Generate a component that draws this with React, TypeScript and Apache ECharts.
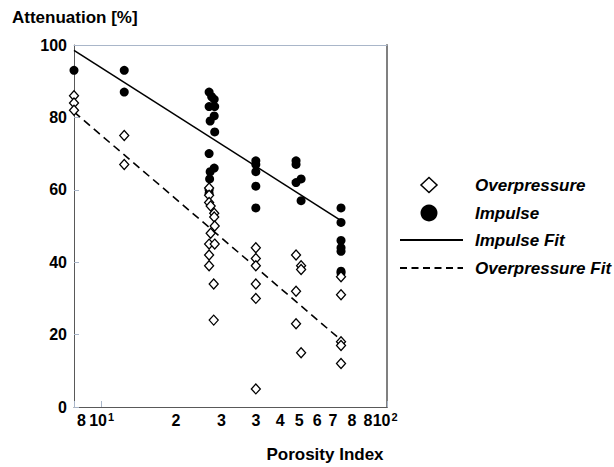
import React, { useEffect, useRef } from "react";
import * as echarts from "echarts";

// Porosity index (x, log axis) and attenuation in % (y)
const impulseX = [8, 12, 12, 23.8, 24.3, 24.8, 23.8, 24.9, 24.8, 24.0, 24.9, 23.8, 24.8, 24.0, 23.9, 23.8, 23.8,
  34.7, 34.7, 34.7, 34.7, 34.7, 48, 48, 48, 50, 50, 69, 69, 69, 69, 69, 69, 69];
const impulseY = [93, 93, 87, 87, 85.7, 85, 83, 83, 80.4, 79, 76, 70, 66, 65, 63, 60, 59,
  68, 67, 65, 61, 55, 68, 67, 62, 63, 57, 55, 51, 46, 44, 43, 37.5, 37];

const overX = [8, 8, 8, 12, 12, 23.8, 23.8, 23.8, 24.1, 24.8, 24.8, 24.9, 24.1, 23.8, 24.9, 23.8, 23.8, 24.7, 24.7,
  34.7, 34.7, 34.7, 34.7, 34.7, 34.7, 48, 50, 50, 48, 48, 50, 69, 69, 69, 69, 69];
const overY = [86, 84, 82, 75, 67, 60.5, 58.5, 56.5, 55.5, 53.5, 52.5, 50, 48, 45, 45, 42, 39, 34, 24,
  44, 41, 39, 34, 30, 5, 42, 39, 38, 32, 23, 15, 36, 31, 18, 17, 12];

const impulseFitX = [8, 69];
const impulseFitY = [98.5, 51.5];
const overFitX = [8, 69];
const overFitY = [81.5, 18.5];

const xTickValues = [8.5, 10, 18.2, 26.3, 34.7, 42.2, 49.2, 56.9, 64.7, 75.4, 85.8, 98.5];
const xTickLabels = ["8", "10{sup|1}", "2", "3", "3", "4", "5", "6", "7", "8", "8", "10{sup|2}"];

const legendNames = ["Overpressure", "Impulse", "Impulse Fit", "Overpressure Fit"];

const FONT = "Liberation Sans, Arial, sans-serif";

export default function App() {
  const ref = useRef<HTMLDivElement>(null);
  useEffect(() => {
    const chart = echarts.init(ref.current!, null, { renderer: "svg" });
    const zip = (xs: number[], ys: number[]) => xs.map((x, i) => [x, ys[i]]);
    chart.setOption({
      animation: false,
      textStyle: { fontFamily: FONT },
      grid: { left: 74, top: 45, right: 227, bottom: 60 },
      xAxis: [
        {
          type: "log",
          min: 8,
          max: 100,
          position: "bottom",
          axisLine: { onZero: false, lineStyle: { color: "#595959", width: 1 } },
          axisTick: { show: true, inside: true, length: 6, lineStyle: { color: "#a9b6c9" } },
          axisLabel: { show: false },
          splitLine: { show: false },
        },
        {
          type: "log",
          min: 8,
          max: 100,
          position: "top",
          axisLine: { onZero: false, lineStyle: { color: "#a9b6c9", width: 1 } },
          axisTick: { show: false },
          axisLabel: { show: false },
          splitLine: { show: false },
        },
      ],
      yAxis: [
        {
          type: "value",
          min: 0,
          max: 100,
          interval: 20,
          position: "left",
          axisLine: { show: true, onZero: false, lineStyle: { color: "#595959", width: 1 } },
          axisTick: { show: true, inside: true, length: 5, lineStyle: { color: "#a9b6c9" } },
          axisLabel: { fontSize: 16, fontWeight: "bold", color: "#000", margin: 7, fontFamily: FONT },
          splitLine: { show: false },
        },
        {
          type: "value",
          min: 0,
          max: 100,
          position: "right",
          axisLine: { show: true, onZero: false, lineStyle: { color: "#808080", width: 2 } },
          axisTick: { show: false },
          axisLabel: { show: false },
          splitLine: { show: false },
        },
      ],
      series: [
        {
          name: "Impulse",
          type: "scatter",
          data: zip(impulseX, impulseY),
          symbol: "circle",
          symbolSize: 9,
          itemStyle: { color: "#000", opacity: 1 },
          z: 2,
        },
        {
          name: "Overpressure",
          type: "scatter",
          data: zip(overX, overY),
          symbol: "diamond",
          symbolSize: [9, 10],
          itemStyle: { color: "#fff", borderColor: "#000", borderWidth: 1.3, opacity: 1 },
          z: 3,
        },
        {
          name: "Impulse Fit",
          type: "line",
          data: zip(impulseFitX, impulseFitY),
          symbol: "none",
          lineStyle: { color: "#000", width: 1.6, type: "solid" },
          z: 1,
        },
        {
          name: "Overpressure Fit",
          type: "line",
          data: zip(overFitX, overFitY),
          symbol: "none",
          lineStyle: { color: "#000", width: 1.6, type: [8, 5] },
          z: 1,
        },
      ],
    });

    const tickTexts = xTickValues.map((v, i) => {
      const px = chart.convertToPixel({ xAxisIndex: 0 }, v) as number;
      return {
        type: "text",
        x: px,
        y: 420,
        style: {
          text: xTickLabels[i],
          fontSize: 16,
          fontWeight: "bold",
          fontFamily: FONT,
          fill: "#000",
          align: "center",
          verticalAlign: "middle",
          lineHeight: 18,
          rich: {
            sup: { fontSize: 11, fontWeight: "bold", fontFamily: FONT, fill: "#000", verticalAlign: "top", lineHeight: 18, padding: [0, 0, 0, 1] },
          },
        },
      };
    });

    const legendY = [185, 213, 240, 268];
    const legendTextStyle = (t: string) => ({
      text: t,
      fontSize: 17,
      fontWeight: "bold",
      fontStyle: "italic",
      fontFamily: FONT,
      fill: "#000",
      align: "left",
      verticalAlign: "middle",
    });

    chart.setOption({
      graphic: [
        ...tickTexts,
        {
          type: "text",
          x: 12,
          y: 17,
          style: {
            text: "Attenuation [%]",
            fontSize: 17,
            fontWeight: "bold",
            fontFamily: FONT,
            fill: "#000",
            align: "left",
            verticalAlign: "middle",
          },
        },
        {
          type: "text",
          x: 325,
          y: 454,
          style: {
            text: "Porosity Index",
            fontSize: 17,
            fontWeight: "bold",
            fontFamily: FONT,
            fill: "#000",
            align: "center",
            verticalAlign: "middle",
          },
        },
        // legend
        {
          type: "polygon",
          shape: { points: [[429, 177.5], [437, 185], [429, 192.5], [421, 185]] },
          style: { fill: "#fff", stroke: "#000", lineWidth: 1.5 },
        },
        {
          type: "circle",
          shape: { cx: 429, cy: 213, r: 8.5 },
          style: { fill: "#000" },
        },
        {
          type: "line",
          shape: { x1: 400, y1: 240, x2: 463, y2: 240 },
          style: { stroke: "#000", lineWidth: 2 },
        },
        {
          type: "line",
          shape: { x1: 400, y1: 268, x2: 463, y2: 268 },
          style: { stroke: "#000", lineWidth: 2, lineDash: [7, 4.5] },
        },
        ...legendNames.map((n, i) => ({
          type: "text",
          x: 475,
          y: legendY[i],
          style: legendTextStyle(n),
        })),
      ],
    });
    return () => chart.dispose();
  }, []);
  return <div ref={ref} style={{ position: "absolute", left: 0, top: 0, width: 614, height: 467 }} />;
}
